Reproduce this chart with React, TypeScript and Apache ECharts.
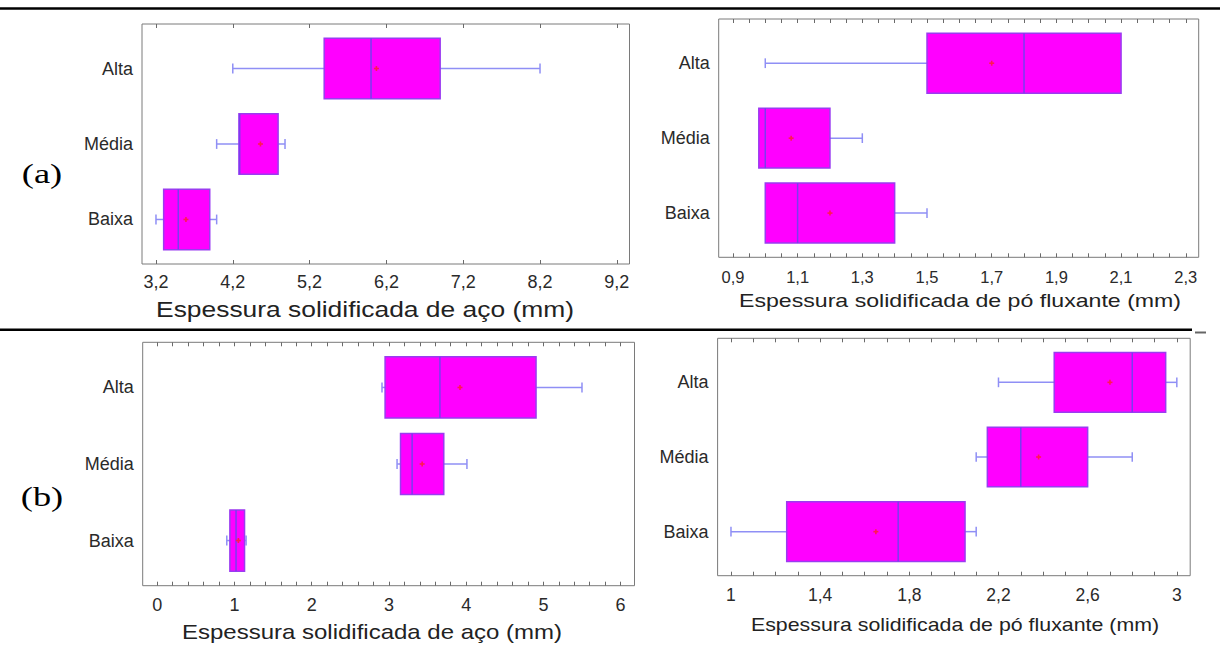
import React, { useEffect, useRef } from "react";
import * as echarts from "echarts";

// ---------- data ----------
const categories = ["Baixa", "Média", "Alta"];

// each row: [min, Q1, median, Q3, max, mean] for Baixa, Média, Alta
const acoA = [
  [3.2, 3.3, 3.49, 3.9, 3.99, 3.59],
  [3.99, 4.28, 4.29, 4.79, 4.88, 4.56],
  [4.2, 5.39, 6.0, 6.9, 8.2, 6.07],
];
const poA = [
  [1.0, 1.0, 1.1, 1.4, 1.5, 1.2],
  [0.98, 0.98, 1.0, 1.2, 1.3, 1.08],
  [1.0, 1.5, 1.8, 2.1, 2.1, 1.7],
];
const acoB = [
  [0.9, 0.94, 1.02, 1.13, 1.15, 1.05],
  [3.105, 3.15, 3.3, 3.71, 4.01, 3.43],
  [2.91, 2.95, 3.66, 4.905, 5.5, 3.92],
];
const poB = [
  [1.0, 1.25, 1.75, 2.05, 2.1, 1.65],
  [2.1, 2.15, 2.3, 2.6, 2.8, 2.38],
  [2.2, 2.45, 2.8, 2.95, 3.0, 2.7],
];

const labelsAcoA = [3.2, 4.2, 5.2, 6.2, 7.2, 8.2, 9.2];
const labelsPoA = [0.9, 1.1, 1.3, 1.5, 1.7, 1.9, 2.1, 2.3];
const labelsAcoB = [0, 1, 2, 3, 4, 5, 6];
const labelsPoB = [1, 1.4, 1.8, 2.2, 2.6, 3];

const titleAco = "Espessura solidificada de aço (mm)";
const titlePo = "Espessura solidificada de pó fluxante (mm)";

// ---------- helpers ----------
function range(a: number, b: number, step: number): number[] {
  const out: number[] = [];
  const n = Math.round((b - a) / step);
  for (let i = 0; i <= n; i++) out.push(+(a + i * step).toFixed(4));
  return out;
}

const FONT = "'Liberation Sans', Arial, sans-serif";
const BOX_FILL = "#ff00ff";
const BOX_STROKE = "#9a3cf0";
const MEDIAN = "#7a3cf0";
const WHISKER = "#8f8ff5";
const MEAN = "#ff1a50";
const BOX_H = 0.8;
const CAP_H = 0.13;

function fmt(v: number) {
  return String(+v.toFixed(2)).replace(".", ",");
}

function renderBox(params: any, api: any) {
  const y = api.value(0);
  const lo = api.value(1);
  const q1 = api.value(2);
  const med = api.value(3);
  const q3 = api.value(4);
  const hi = api.value(5);
  const mean = api.value(6);
  const pLo = api.coord([lo, y]);
  const yc = pLo[1];
  const xLo = pLo[0];
  const xQ1 = api.coord([q1, y])[0];
  const xMed = api.coord([med, y])[0];
  const xQ3 = api.coord([q3, y])[0];
  const xHi = api.coord([hi, y])[0];
  const xMean = api.coord([mean, y])[0];
  const h = Math.abs(api.size([0, BOX_H])[1]);
  const cap = Math.abs(api.size([0, CAP_H])[1]);
  const children: any[] = [];
  const wStyle = { stroke: WHISKER, lineWidth: 1.5 };
  if (xLo < xQ1 - 0.5) {
    children.push({ type: "line", shape: { x1: xLo, y1: yc, x2: xQ1, y2: yc }, style: wStyle });
    children.push({ type: "line", shape: { x1: xLo, y1: yc - cap / 2, x2: xLo, y2: yc + cap / 2 }, style: wStyle });
  }
  if (xHi > xQ3 + 0.5) {
    children.push({ type: "line", shape: { x1: xQ3, y1: yc, x2: xHi, y2: yc }, style: wStyle });
    children.push({ type: "line", shape: { x1: xHi, y1: yc - cap / 2, x2: xHi, y2: yc + cap / 2 }, style: wStyle });
  }
  children.push({
    type: "rect",
    shape: { x: xQ1, y: yc - h / 2, width: xQ3 - xQ1, height: h },
    style: { fill: BOX_FILL, stroke: BOX_STROKE, lineWidth: 1.5 },
  });
  children.push({
    type: "line",
    shape: { x1: xMed, y1: yc - h / 2, x2: xMed, y2: yc + h / 2 },
    style: { stroke: MEDIAN, lineWidth: 1.5 },
  });
  children.push({ type: "line", shape: { x1: xMean - 2.5, y1: yc, x2: xMean + 2.5, y2: yc }, style: { stroke: MEAN, lineWidth: 1.6 } });
  children.push({ type: "line", shape: { x1: xMean, y1: yc - 2.5, x2: xMean, y2: yc + 2.5 }, style: { stroke: MEAN, lineWidth: 1.6 } });
  return { type: "group", children };
}

type Panel = {
  data: number[][];
  grid: { left: number; top: number; width: number; height: number };
  min: number;
  max: number;
  labels: number[];
  ticks: number[];
  labelSize: number;
  labelMargin: number;
};

const panels: Panel[] = [
  {
    data: acoA,
    grid: { left: 142, top: 24, width: 487.5, height: 240 },
    min: 3.018,
    max: 9.365,
    labels: labelsAcoA,
    ticks: labelsAcoA,
    labelSize: 18,
    labelMargin: 9,
  },
  {
    data: poA,
    grid: { left: 718.7, top: 19, width: 480, height: 238.3 },
    min: 0.856,
    max: 2.34,
    labels: labelsPoA,
    ticks: range(0.9, 2.3, 0.05),
    labelSize: 16.5,
    labelMargin: 11,
  },
  {
    data: acoB,
    grid: { left: 142.7, top: 342.3, width: 491.8, height: 243.4 },
    min: -0.189,
    max: 6.18,
    labels: labelsAcoB,
    ticks: range(0, 6, 0.2),
    labelSize: 18,
    labelMargin: 10,
  },
  {
    data: poB,
    grid: { left: 717.6, top: 338.3, width: 472.6, height: 237.4 },
    min: 0.94,
    max: 3.06,
    labels: labelsPoB,
    ticks: range(1, 3, 0.1),
    labelSize: 17.5,
    labelMargin: 10,
  },
];

function buildOption() {
  const grid: any[] = [];
  const xAxis: any[] = [];
  const yAxis: any[] = [];
  const series: any[] = [];
  panels.forEach((p, i) => {
    grid.push({
      ...p.grid,
      show: true,
      borderColor: "#7a7a7a",
      borderWidth: 1,
      backgroundColor: "#ffffff",
      containLabel: false,
    });
    const tickCommon = {
      show: true,
      inside: true,
      length: 4,
      customValues: p.ticks,
      lineStyle: { color: "#6a6a6a", width: 1 },
    };
    xAxis.push({
      type: "value",
      gridIndex: i,
      position: "bottom",
      min: p.min,
      max: p.max,
      axisLine: { show: false },
      axisTick: tickCommon,
      splitLine: { show: false },
      axisLabel: {
        show: true,
        customValues: p.labels,
        formatter: (v: number) => fmt(v),
        fontFamily: FONT,
        fontSize: p.labelSize,
        color: "#2a2a2a",
        margin: p.labelMargin,
      },
    });
    xAxis.push({
      type: "value",
      gridIndex: i,
      position: "top",
      min: p.min,
      max: p.max,
      axisLine: { show: false },
      axisTick: tickCommon,
      splitLine: { show: false },
      axisLabel: { show: false },
    });
    yAxis.push({
      type: "value",
      gridIndex: i,
      min: 0.41,
      max: 3.59,
      axisLine: { show: false },
      axisTick: { show: false },
      splitLine: { show: false },
      axisLabel: {
        show: true,
        customValues: [1, 2, 3],
        formatter: (v: number) => categories[Math.round(v) - 1] ?? "",
        fontFamily: FONT,
        fontSize: 18,
        color: "#2a2a2a",
        margin: 9,
      },
    });
    series.push({
      type: "custom",
      xAxisIndex: i * 2,
      yAxisIndex: i,
      renderItem: renderBox,
      encode: { x: [1, 2, 3, 4, 5, 6], y: 0 },
      data: p.data.map((r, k) => [k + 1, ...r]),
      silent: true,
    });
  });

  const textStyle = (size: number) => ({
    font: `${size}px ${FONT}`,
    fill: "#222",
    align: "center",
    verticalAlign: "middle",
  });

  const serif = "28px 'Liberation Serif', 'Times New Roman', serif";

  const graphic: any[] = [
    { type: "line", shape: { x1: 0, y1: 8.5, x2: 1220, y2: 8.5 }, style: { stroke: "#000", lineWidth: 2.6 } },
    { type: "line", shape: { x1: 0, y1: 329.7, x2: 1192, y2: 329.7 }, style: { stroke: "#000", lineWidth: 2.6 } },
    { type: "line", shape: { x1: 1195, y1: 332.5, x2: 1206, y2: 332.5 }, style: { stroke: "#666", lineWidth: 2 } },
    { type: "text", x: 365, y: 309, scaleX: 1.2, style: { ...textStyle(22), text: titleAco } },
    { type: "text", x: 960, y: 300, scaleX: 1.25, style: { ...textStyle(18.5), text: titlePo } },
    { type: "text", x: 372, y: 632, scaleX: 1.2, style: { ...textStyle(20), text: titleAco } },
    { type: "text", x: 955, y: 625, scaleX: 1.22, style: { ...textStyle(17.5), text: titlePo } },
    {
      type: "text",
      x: 42,
      y: 174,
      scaleX: 1.3,
      style: { font: serif, fill: "#000", align: "center", verticalAlign: "middle", text: "(a)" },
    },
    {
      type: "text",
      x: 42,
      y: 497,
      scaleX: 1.3,
      style: { font: serif, fill: "#000", align: "center", verticalAlign: "middle", text: "(b)" },
    },
  ];

  return {
    animation: false,
    backgroundColor: "#ffffff",
    grid,
    xAxis,
    yAxis,
    series,
    graphic,
  };
}

export default function App() {
  const ref = useRef<HTMLDivElement>(null);
  useEffect(() => {
    document.body.style.margin = "0";
    if (!ref.current) return;
    const chart = echarts.init(ref.current, undefined, { renderer: "svg" });
    chart.setOption(buildOption() as any);
    return () => chart.dispose();
  }, []);
  return <div ref={ref} style={{ width: 1220, height: 645 }} />;
}
